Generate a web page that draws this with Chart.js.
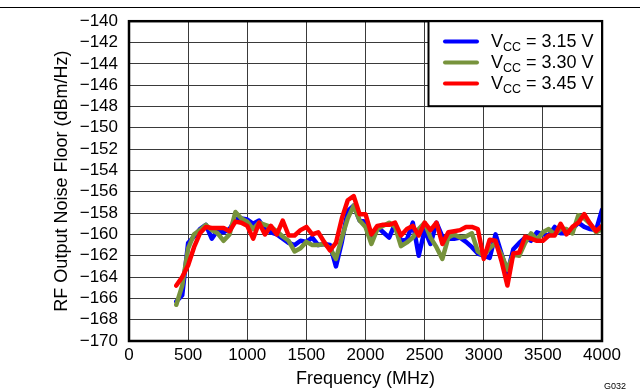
<!DOCTYPE html>
<html>
<head>
<meta charset="utf-8">
<script src="https://cdn.jsdelivr.net/npm/chart.js@4"></script>
<style>
  html, body { margin: 0; padding: 0; background: #fff; }
  #c { display: block; }
</style>
</head>
<body>
<canvas id="c" width="640" height="391"></canvas>
<script>
// ---- data ----
const freqMHz = [400,450,500,550,600,650,700,750,800,850,900,950,1000,
  1050,1100,1150,1200,1250,1300,1350,1400,1450,1500,1550,1600,1650,1700,1750,1800,1850,1900,1950,2000,
  2050,2100,2150,2200,2250,2300,2350,2400,2450,2500,2550,2600,2650,2700,2750,2800,2850,2900,2950,3000,
  3050,3100,3150,3200,3250,3300,3350,3400,3450,3500,3550,3600,3650,3700,3750,3800,3850,3900,3950,4000];

const vcc315 = [-166.3,-165.7,-160.8,-160.2,-159.5,-159.1,-160.4,-159.6,-159.8,-159.5,-158.6,-158.5,-158.6,
  -159.0,-158.7,-159.5,-159.8,-160.0,-160.4,-160.8,-161.0,-160.6,-160.7,-160.3,-161.0,-160.9,-161.0,-163.0,-160.7,-157.8,-157.3,-158.7,-158.8,
  -160.5,-159.3,-159.8,-160.3,-159.0,-160.6,-160.5,-158.9,-162.0,-159.6,-160.9,-158.9,-160.2,-160.4,-160.4,-160.3,-160.7,-161.2,-161.8,-162.0,
  -162.2,-160.0,-161.8,-163.6,-161.4,-160.8,-160.3,-160.6,-159.8,-160.0,-160.1,-159.3,-159.9,-159.9,-159.5,-158.9,-159.3,-159.5,-159.6,-157.7];

const vcc330 = [-166.6,-164.8,-161.3,-160.0,-159.6,-159.1,-159.6,-159.9,-160.6,-160.0,-157.9,-158.5,-158.8,
  -159.5,-158.9,-159.1,-159.3,-159.7,-160.2,-160.6,-161.6,-161.3,-160.7,-161.0,-161.0,-160.9,-161.3,-162.3,-160.3,-158.5,-157.3,-158.7,-159.3,
  -160.9,-159.5,-159.2,-158.9,-159.3,-161.1,-160.75,-160.3,-159.5,-158.9,-160.3,-161.2,-162.3,-160.3,-160.0,-160.3,-160.2,-159.9,-161.6,-162.0,
  -161.3,-160.8,-161.9,-163.3,-161.9,-162.0,-160.8,-159.9,-160.5,-159.8,-159.5,-160.0,-159.5,-159.5,-159.9,-158.2,-158.5,-159.0,-159.8,-159.5];

const vcc345 = [-164.8,-164.0,-162.9,-161.2,-159.9,-159.3,-159.4,-159.4,-159.4,-159.7,-158.8,-158.9,-159.2,
  -160.4,-158.9,-160.0,-159.2,-160.0,-158.7,-160.1,-160.1,-159.6,-159.3,-160.0,-159.8,-160.7,-161.5,-160.8,-158.5,-156.8,-156.4,-158.1,-158.1,
  -160.0,-159.2,-159.1,-159.1,-158.9,-160.1,-159.5,-159.2,-160.1,-158.9,-159.6,-158.9,-160.9,-159.8,-159.7,-159.6,-159.3,-159.3,-159.5,-162.3,
  -160.5,-160.6,-162.5,-164.8,-161.8,-161.7,-160.2,-160.4,-160.6,-160.6,-160.1,-160.1,-159.0,-160.0,-159.3,-158.9,-158.1,-159.0,-159.7,-159.2];

const seriesLabels = ['3.15 V', '3.30 V', '3.45 V'];
const xTickValues = [0,500,1000,1500,2000,2500,3000,3500,4000];
const yTickValues = [-170,-168,-166,-164,-162,-160,-158,-156,-154,-152,-150,-148,-146,-144,-142,-140];

// ---- styling ----
const FONT = '"Liberation Sans", Arial, Helvetica, sans-serif';
const colors = ['#0000FF', '#77933C', '#FF0000'];
const seriesValues = [vcc315, vcc330, vcc345];

const datasets = seriesValues.map((vals, i) => ({
  label: seriesLabels[i],
  data: freqMHz.map((f, k) => ({ x: f, y: vals[k] })),
  borderColor: colors[i],
  backgroundColor: colors[i],
  borderWidth: 4.5,
  pointRadius: 0,
  tension: 0,
  fill: false,
  borderJoinStyle: 'round',
  borderCapStyle: 'round',
  order: 3 - i
}));

const decor = {
  id: 'decor',
  beforeDraw(chart) {
    const ctx = chart.ctx;
    ctx.save();
    ctx.fillStyle = '#fff';
    ctx.fillRect(0, 0, chart.width, chart.height);
    ctx.strokeStyle = '#000';
    ctx.lineWidth = 1;
    ctx.beginPath();
    ctx.moveTo(0, 7.5);
    ctx.lineTo(chart.width, 7.5);
    ctx.stroke();
    ctx.restore();
  },
  afterDraw(chart) {
    const ctx = chart.ctx;
    const a = chart.chartArea;
    ctx.save();
    // frame
    ctx.strokeStyle = '#000';
    ctx.lineWidth = 2.5;
    ctx.strokeRect(a.left, a.top, a.right - a.left, a.bottom - a.top);
    // legend box
    const bx = 428.5, by = a.top, bw = a.right - 428.5, bh = 85;
    ctx.fillStyle = '#fff';
    ctx.fillRect(bx, by, bw, bh);
    ctx.lineWidth = 2;
    ctx.strokeRect(bx, by, bw, bh);
    chart.data.datasets.forEach((ds, i) => {
      const cy = 41.5 + i * 21;
      ctx.strokeStyle = ds.borderColor;
      ctx.lineWidth = 4;
      ctx.lineCap = 'round';
      ctx.beginPath();
      ctx.moveTo(445, cy);
      ctx.lineTo(477, cy);
      ctx.stroke();
      ctx.fillStyle = '#000';
      ctx.textBaseline = 'alphabetic';
      ctx.textAlign = 'left';
      let x = 491;
      const base = cy + 5;
      ctx.font = '18px ' + FONT;
      ctx.fillText('V', x, base);
      x += ctx.measureText('V').width;
      ctx.font = '12.5px ' + FONT;
      ctx.fillText('CC', x, base + 4);
      x += ctx.measureText('CC').width;
      ctx.font = '18px ' + FONT;
      ctx.fillText(' = ' + ds.label, x, base);
    });
    // figure id
    ctx.font = '9px ' + FONT;
    ctx.fillStyle = '#000';
    ctx.textAlign = 'right';
    ctx.fillText('G032', 626, 389);
    ctx.restore();
  }
};

new Chart(document.getElementById('c'), {
  type: 'line',
  data: { datasets },
  options: {
    responsive: false,
    animation: false,
    devicePixelRatio: 1,
    layout: { padding: { top: 21, right: 38, left: 0, bottom: 0 } },
    plugins: { legend: { display: false }, tooltip: { enabled: false } },
    scales: {
      x: {
        type: 'linear',
        min: 0, max: 4000,
        afterBuildTicks: s => { s.ticks = xTickValues.map(v => ({ value: v })); },
        afterFit: s => { s.height = 50; },
        ticks: { color: '#000', font: { family: FONT, size: 17 }, padding: 4, maxRotation: 0, autoSkip: false,
          callback: v => String(v) },
        grid: { color: '#3a3a3a', lineWidth: 1, drawTicks: false },
        border: { display: false },
        title: { display: true, text: 'Frequency (MHz)', color: '#000', font: { family: FONT, size: 18 }, padding: { top: 0, bottom: 1 } }
      },
      y: {
        type: 'linear',
        min: -170, max: -140,
        afterBuildTicks: s => { s.ticks = yTickValues.map(v => ({ value: v })); },
        afterFit: s => { s.width = 129; },
        ticks: {
          color: '#000', font: { family: FONT, size: 17 }, padding: 11, autoSkip: false,
          callback: v => (v < 0 ? '\u2212' : '') + Math.abs(v)
        },
        grid: { color: '#3a3a3a', lineWidth: 1, drawTicks: false },
        border: { display: false },
        title: { display: true, text: 'RF Output Noise Floor (dBm/Hz)', color: '#000', font: { family: FONT, size: 18 }, padding: { top: 51, bottom: 0 } }
      }
    }
  },
  plugins: [decor]
});
</script>
</body>
</html>
